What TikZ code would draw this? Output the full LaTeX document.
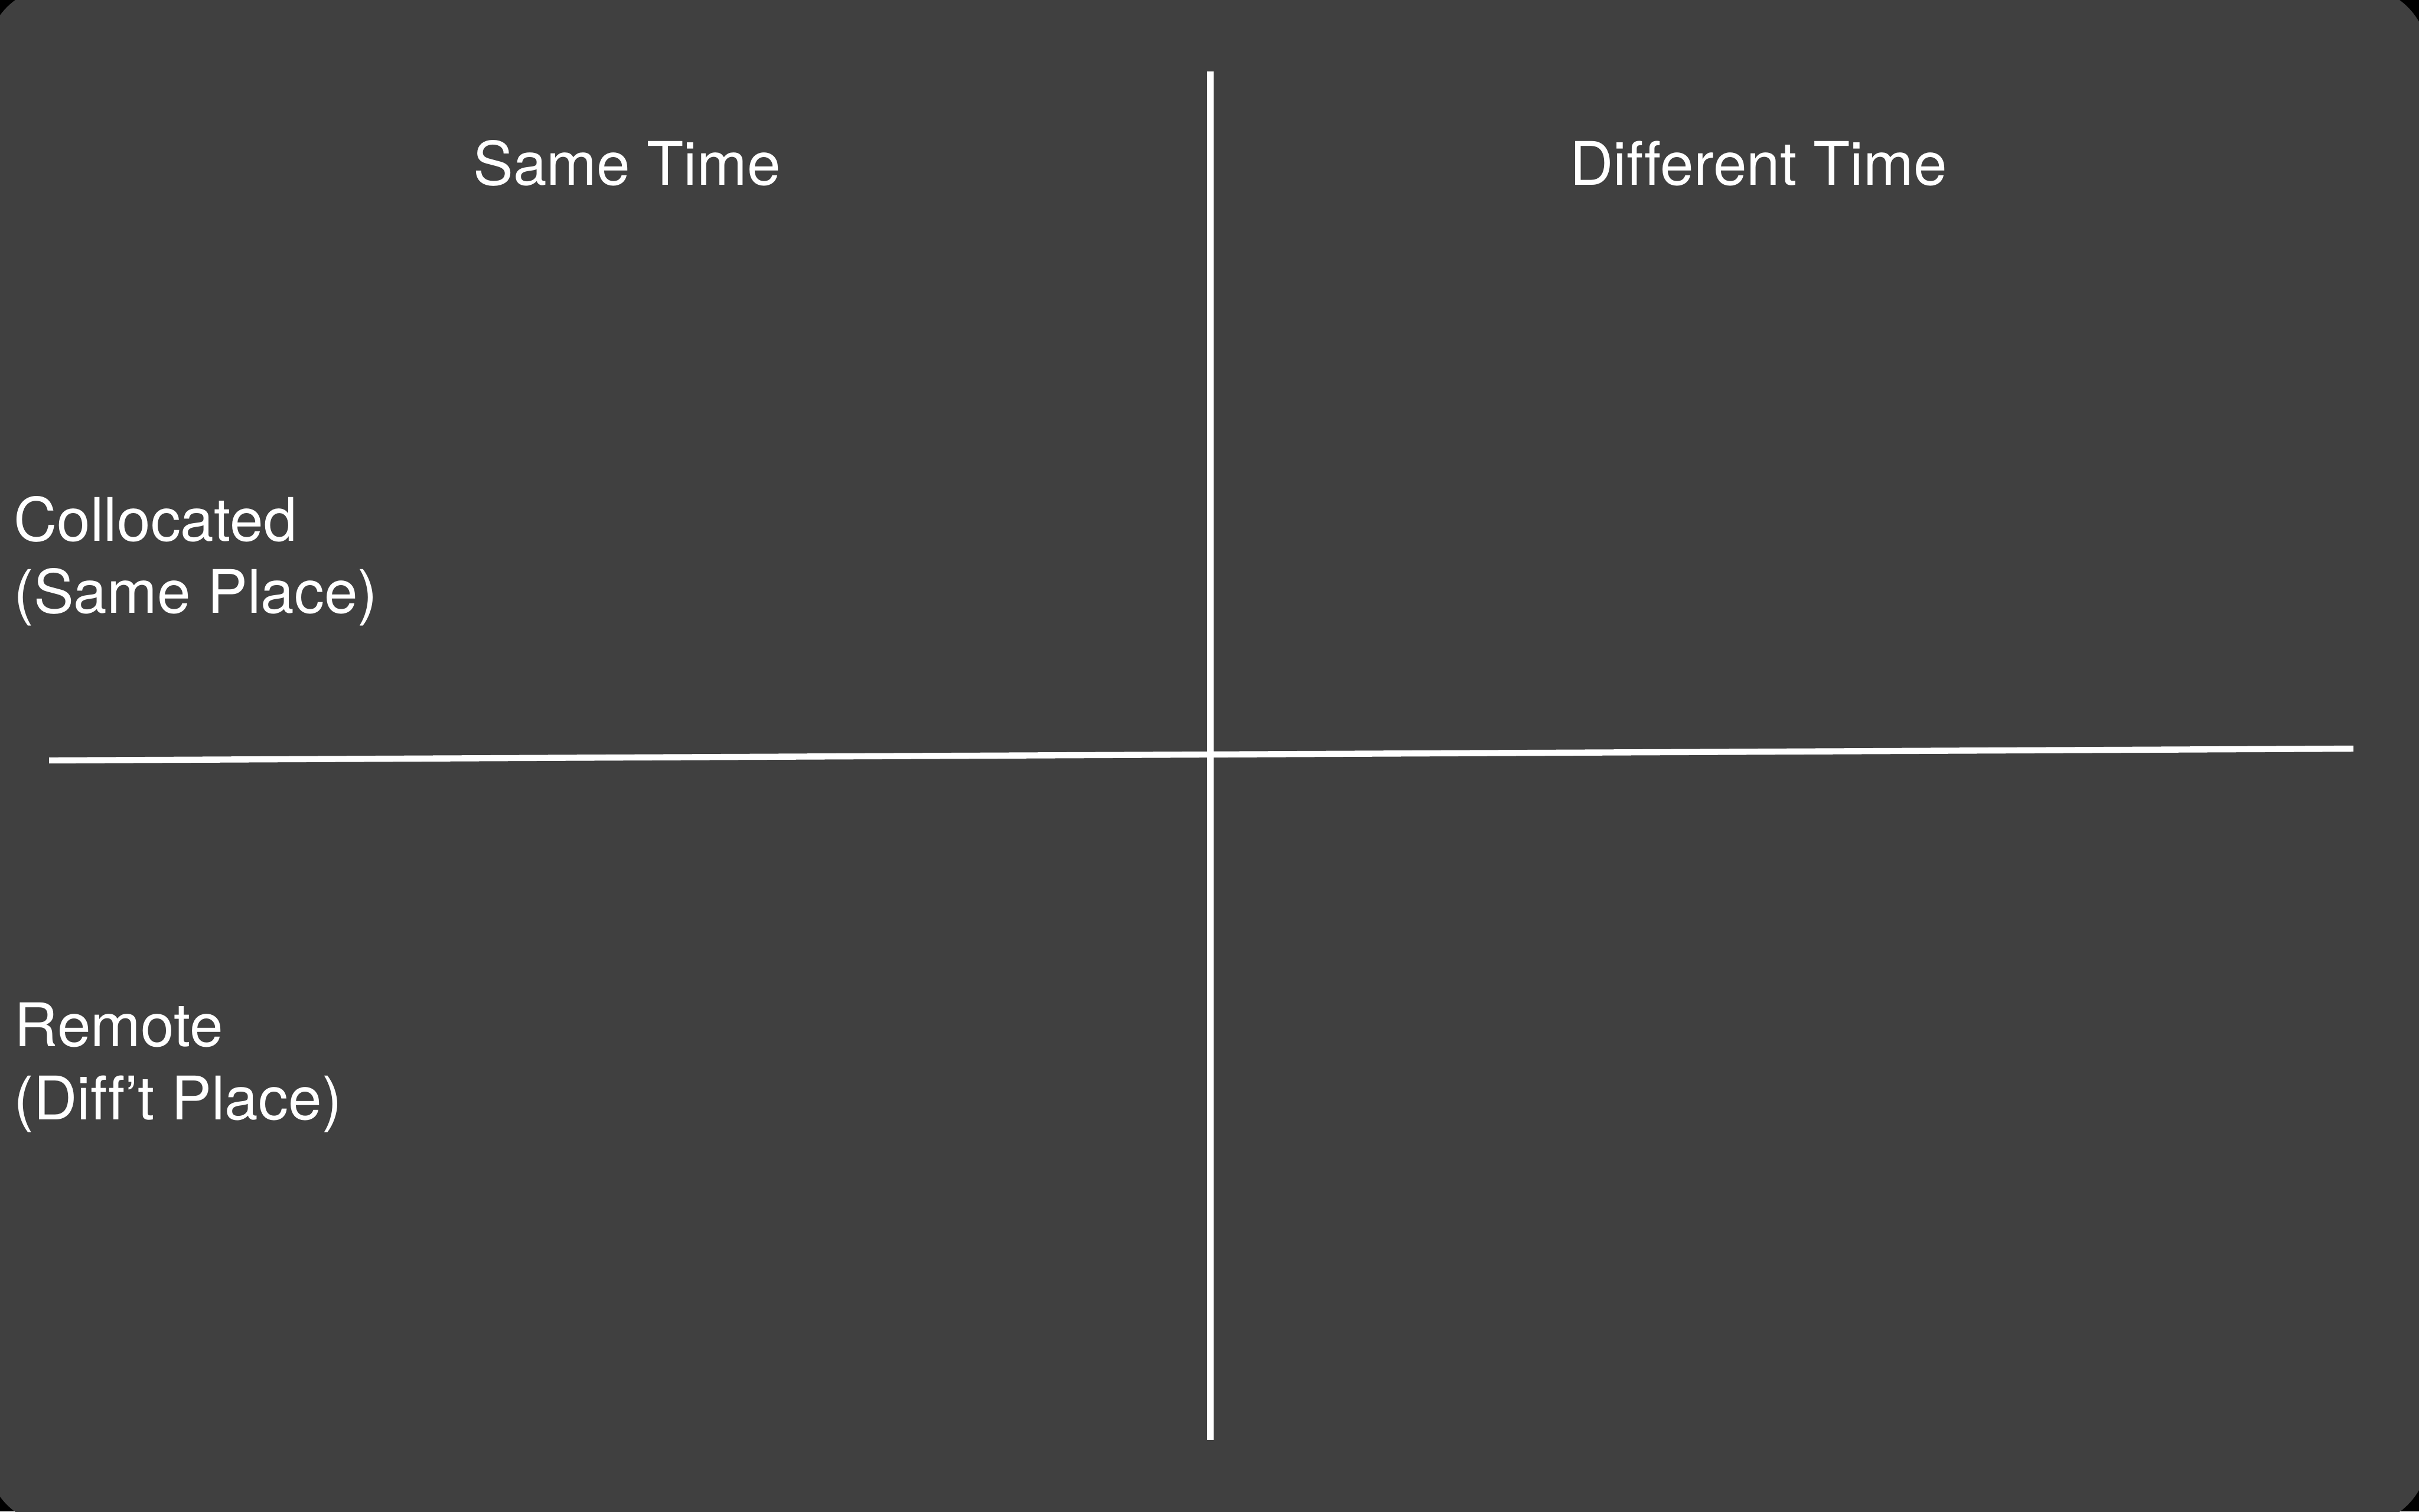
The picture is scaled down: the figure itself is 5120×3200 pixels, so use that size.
\documentclass[tikz,border=0pt]{standalone}
\usepackage{fontspec}
\setmainfont[Ligatures=CommonOff]{TeX Gyre Heros}
\definecolor{panel}{RGB}{64,64,64}
\begin{document}
\begin{tikzpicture}[x=0.1mm,y=-0.1mm,
  lbl/.style={anchor=base west,inner sep=0pt,outer sep=0pt,text=white,
              font=\fontsize{36.2}{43.6}\selectfont},
  head/.style={lbl,anchor=base},
  axisline/.style={draw=white,line width=1.3mm}]
\useasboundingbox (0,0) rectangle (5120,3200);
\fill[black] (0,0) rectangle (5120,3200);
\begin{scope}
  \clip (0,0) rectangle (5120,3200);
  \fill[panel,rounded corners=15mm] (-29,-29) rectangle (5140,3230);
\end{scope}
% axes
\coordinate (vtop) at (2562,151);
\coordinate (vbot) at (2562,3049);
\coordinate (hleft) at (104,1610);
\coordinate (hright) at (4981,1585);
\draw[axisline] (vtop) -- (vbot);
\draw[axisline] (hleft) -- (hright);
% labels
\node[head] (same) at (1327,392) {Same Time};
\node[head] (diff) at (3722,392) {Different Time};
\node[lbl] (coll) at (29,1145) {Collocated};
\node[lbl] (samep) at (29,1298) {(Same Place)};
\node[lbl] (remote) at (31,2216) {Remote};
\node[lbl] (diffp) at (29,2370) {(Diff’t Place)};
\end{tikzpicture}
\end{document}
